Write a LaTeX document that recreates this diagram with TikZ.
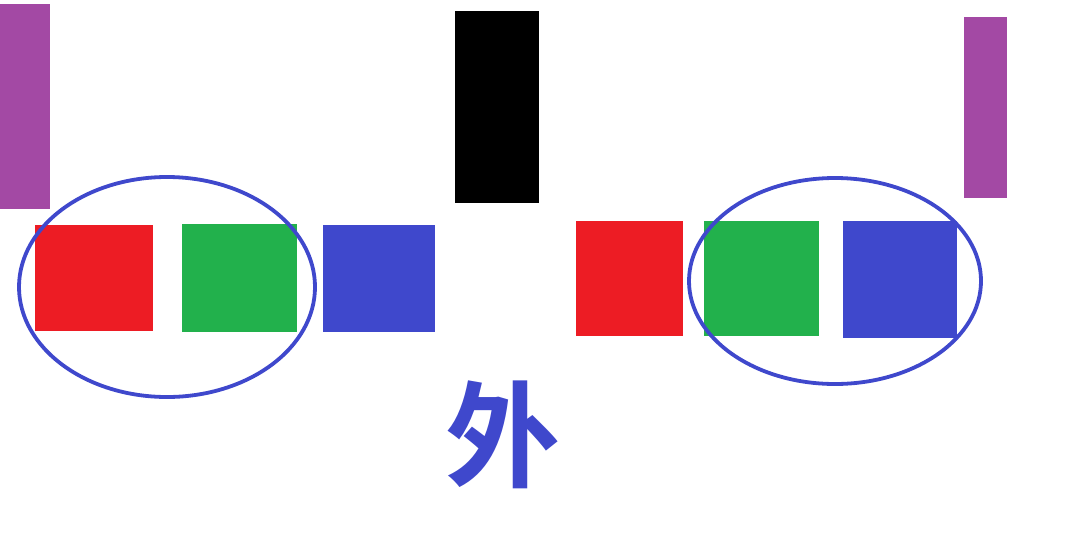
\documentclass[tikz,border=0pt]{standalone}
\usepackage{fontspec}
\newfontfamily\cjk{Noto Sans CJK SC Bold}
\definecolor{barpurple}{HTML}{A349A4}
\definecolor{boxred}{HTML}{ED1C24}
\definecolor{boxgreen}{HTML}{22B14C}
\definecolor{boxblue}{HTML}{3F48CC}
\begin{document}
\begin{tikzpicture}[line cap=round,line join=round,x=1pt,y=-1pt]
\useasboundingbox (0,0) rectangle (1081,541);
% bars
\fill [barpurple] (0,4) rectangle (50,209);
\fill [black] (455,11) rectangle (539,203);
\fill [barpurple] (964,17) rectangle (1007,198);
% left group
\fill [boxred] (35,225) rectangle (153,331);
\fill [boxgreen] (182,224) rectangle (297,332);
\fill [boxblue] (323,225) rectangle (435,332);
% right group
\fill [boxred] (576,221) rectangle (683,336);
\fill [boxgreen] (704,221) rectangle (819,336);
\fill [boxblue] (843,221) rectangle (957,338);
% rings
\draw [boxblue,line width=3.8pt] (167,287) ellipse [x radius=148,y radius=110];
\draw [boxblue,line width=3.8pt] (835,281) ellipse [x radius=146,y radius=103];
\node (wai) [text=boxblue,font=\cjk\fontsize{115}{115}\selectfont,inner sep=0pt] at (503,435) {外};
\end{tikzpicture}
\end{document}
